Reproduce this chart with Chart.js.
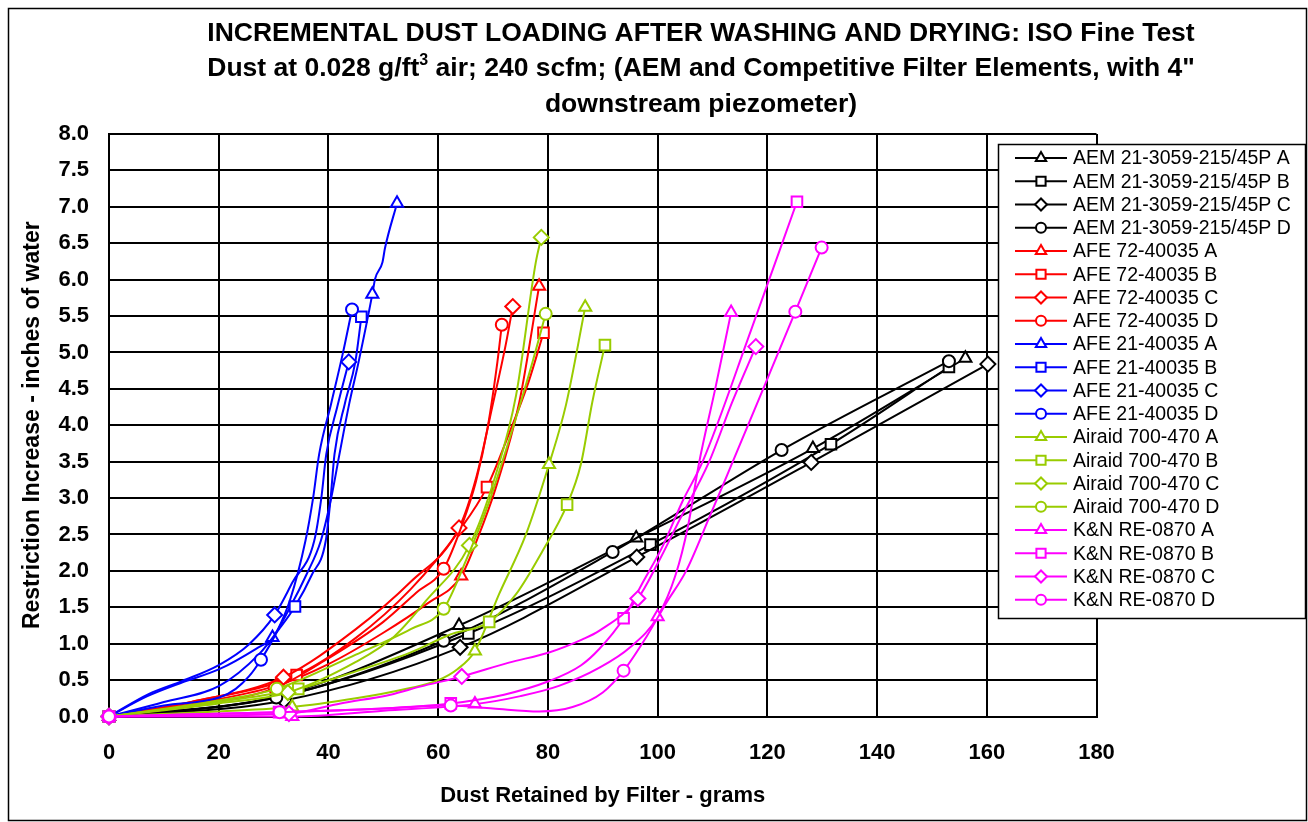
<!DOCTYPE html>
<html><head><meta charset="utf-8">
<script src="https://cdn.jsdelivr.net/npm/chart.js@4.4.1/dist/chart.umd.min.js"></script>
<style>html,body{margin:0;padding:0;background:#fff;overflow:hidden}#wrap{width:1308px;height:822px;position:relative}</style>
</head><body><div id="wrap"><canvas id="c" width="1308" height="822"></canvas></div>
<script>
// ---------------- DATA ----------------
const titleLine1 = 'INCREMENTAL DUST LOADING AFTER WASHING AND DRYING: ISO Fine Test';
const titleLine2a = 'Dust at 0.028 g/ft';
const titleLine2sup = '3';
const titleLine2b = ' air; 240 scfm; (AEM and Competitive Filter Elements, with 4"';
const titleLine3 = 'downstream piezometer)';
const xAxisTitle = 'Dust Retained by Filter - grams';
const yAxisTitle = 'Restriction Increase - inches of water';
const xTicks = [0, 20, 40, 60, 80, 100, 120, 140, 160, 180];
const yTicks = [0, 0.5, 1, 1.5, 2, 2.5, 3, 3.5, 4, 4.5, 5, 5.5, 6, 6.5, 7, 7.5, 8];

const seriesNames = [
  'AEM 21-3059-215/45P A', 'AEM 21-3059-215/45P B', 'AEM 21-3059-215/45P C', 'AEM 21-3059-215/45P D',
  'AFE 72-40035 A', 'AFE 72-40035 B', 'AFE 72-40035 C', 'AFE 72-40035 D',
  'AFE 21-40035 A', 'AFE 21-40035 B', 'AFE 21-40035 C', 'AFE 21-40035 D',
  'Airaid 700-470 A', 'Airaid 700-470 B', 'Airaid 700-470 C', 'Airaid 700-470 D',
  'K&N RE-0870 A', 'K&N RE-0870 B', 'K&N RE-0870 C', 'K&N RE-0870 D'
];

// points: [grams, inches of water, measured point shown with marker (1) or not (0)]
const aemA = [[0,0,1],[30.8,0.28,1],[63.8,1.25,1],[96.1,2.45,1],[128.3,3.68,1],[156.1,4.92,1]];
const aemB = [[0,0,1],[31,0.27,1],[65.5,1.14,1],[98.7,2.36,1],[131.6,3.74,1],[153.1,4.80,1]];
const aemC = [[0,0,1],[31.9,0.22,1],[64,0.95,1],[96.2,2.19,1],[128,3.49,1],[160.2,4.84,1]];
const aemD = [[0,0,1],[30.5,0.26,1],[61,1.04,1],[91.8,2.26,1],[122.6,3.66,1],[153.1,4.88,1]];

const afe72A = [[0,0,1],[15,0.17,0],[30.4,0.42,1],[40,0.72,0],[50,1.15,0],[58,1.55,0],[64.2,1.93,1],[67.2,2.45,0],[70.5,3.14,0],[74.8,4.32,0],[78.4,5.91,1]];
const afe72B = [[0,0,1],[15,0.2,0],[34.2,0.57,1],[45,1.08,0],[55,1.75,0],[63.8,2.55,0],[68.9,3.15,1],[73,3.9,0],[76.5,4.6,0],[79.2,5.27,1]];
const afe72C = [[0,0,1],[15,0.2,0],[31.8,0.54,1],[45,1.2,0],[55,1.85,0],[63.8,2.59,1],[67,3.3,0],[70,4.3,0],[72.3,5.1,0],[73.6,5.63,1]];
const afe72D = [[0,0,1],[15,0.15,0],[30.2,0.39,1],[40,0.8,0],[50,1.3,0],[56,1.7,0],[61,2.03,1],[64.4,2.64,0],[66.9,3.23,0],[69,3.96,0],[70.8,4.87,0],[71.6,5.38,1]];

const afe21A = [[0,0,1],[7,0.28,0],[13.4,0.47,0],[20.1,0.65,0],[26.8,0.93,0],[29.8,1.085,1],[33,1.5,0],[36,1.95,0],[38.6,2.41,0],[40.5,3.0,0],[42,3.6,0],[43.8,4.3,0],[45.5,4.87,0],[48,5.8,1],[48.5,6.01,0],[49.85,6.24,0],[50.3,6.43,0],[52.5,7.05,1]];
const afe21B = [[0,0,1],[10,0.2,0],[20.1,0.42,0],[27.4,0.86,0],[31,1.2,0],[33.9,1.51,1],[37,1.95,0],[39.5,2.41,0],[40.4,3.0,0],[41.1,3.6,0],[43,4.3,0],[44.9,4.87,0],[46,5.49,1]];
const afe21C = [[0,0,1],[7.3,0.31,0],[13.4,0.49,0],[20.1,0.71,0],[25.5,0.99,0],[30.2,1.395,1],[33.5,1.85,0],[37.4,2.41,0],[38.7,3.0,0],[39.6,3.6,0],[41.6,4.25,0],[43.7,4.87,1]];
const afe21D = [[0,0,1],[10,0.15,0],[20.1,0.26,0],[23.1,0.38,0],[25.5,0.55,0],[27.7,0.78,1],[30.5,1.15,0],[33,1.6,0],[35.8,2.41,0],[37.2,3.0,0],[38.3,3.6,0],[40.5,4.3,0],[42.6,4.98,0],[44.3,5.59,1]];

const airaidA = [[0,0,1],[20,0.07,0],[33.4,0.13,1],[45,0.25,0],[53,0.36,0],[60,0.5,0],[63.5,0.65,0],[66.7,0.9,1],[71.1,1.68,0],[76,2.5,0],[80.2,3.46,1],[83.3,4.28,0],[86.8,5.62,1]];
const airaidB = [[0,0,1],[20,0.2,0],[34.5,0.38,1],[45,0.62,0],[55,0.88,0],[62,1.12,0],[69.3,1.30,1],[74.2,1.68,0],[79,2.27,0],[83.5,2.91,1],[86,3.46,0],[88.1,4.32,0],[90.4,5.10,1]];
const airaidC = [[0,0,1],[20,0.18,0],[32.6,0.33,1],[45,0.75,0],[52,1.1,0],[57.8,1.59,0],[65.7,2.35,1],[70.5,3.32,0],[74.2,4.41,0],[77.8,6.24,0],[78.8,6.58,1]];
const airaidD = [[0,0,1],[20,0.22,0],[30.6,0.38,1],[45,0.85,0],[55,1.2,0],[61,1.48,1],[65,2.13,0],[69.3,2.95,0],[73.6,3.96,0],[77.2,4.87,0],[79.6,5.53,1]];

const knA = [[0,0,1],[20,0.0,0],[33.4,0.0,1],[50,0.08,0],[66.7,0.17,1],[75,0.28,0],[82,0.42,0],[89.4,0.67,0],[95,0.95,0],[100,1.37,1],[103.3,1.95,0],[105.5,2.6,0],[107.6,3.5,0],[110.5,4.5,0],[113.4,5.55,1]];
const knB = [[0,0,1],[31,0.06,1],[47,0.1,0],[62.3,0.18,1],[72,0.3,0],[80,0.48,0],[86,0.7,0],[89.4,0.93,0],[93.8,1.35,1],[97,1.8,0],[101,2.35,0],[104.5,2.95,0],[108.2,3.5,0],[117,5.3,0],[125.4,7.07,1]];
const knC = [[0,0,1],[32.8,0.04,1],[42.2,0.18,0],[51.3,0.3,0],[56.7,0.41,0],[64.3,0.55,1],[72.9,0.74,0],[80.2,0.88,0],[86.3,1.06,0],[89.4,1.18,0],[96.4,1.62,1],[100,2.1,0],[104,2.7,0],[109.4,3.5,0],[113.5,4.3,0],[117.9,5.08,1]];
const knD = [[0,0,1],[31.1,0.06,1],[47,0.1,0],[62.3,0.15,1],[70,0.11,0],[78.4,0.07,0],[84.5,0.13,0],[90,0.33,0],[93.8,0.63,1],[98,1.1,0],[101.5,1.55,0],[105.2,2.0,0],[109.4,2.73,0],[113.7,3.5,0],[119.8,4.6,0],[125.1,5.56,1],[129.9,6.44,1]];

const seriesData = [aemA, aemB, aemC, aemD, afe72A, afe72B, afe72C, afe72D,
  afe21A, afe21B, afe21C, afe21D, airaidA, airaidB, airaidC, airaidD, knA, knB, knC, knD];

// ---------------- STYLE ----------------
const groupColors = ['#000000', '#FF0000', '#0000FF', '#99CC00', '#FF00FF'];
const markerStyles = ['triangle', 'rect', 'rectRot', 'circle'];
const markerRadius = {triangle: 7, rect: 7.5, rectRot: 7.5, circle: 6};
const legendMarkerRadius = {triangle: 6, rect: 6.5, rectRot: 6, circle: 5};
const FONT = '"Liberation Sans", Arial, Helvetica, sans-serif';

const datasets = seriesData.map((pts, i) => {
  const color = groupColors[Math.floor(i / 4)];
  const ms = markerStyles[i % 4];
  const radii = pts.map(p => p[2] ? markerRadius[ms] : 0);
  return {
    label: seriesNames[i],
    data: pts.map(p => ({x: p[0], y: p[1]})),
    borderColor: color,
    backgroundColor: '#ffffff',
    borderWidth: 2,
    pointStyle: ms,
    pointRadius: radii,
    pointHoverRadius: radii,
    pointBorderWidth: 2,
    pointBackgroundColor: '#ffffff',
    pointBorderColor: color,
    cubicInterpolationMode: 'monotone',
    fill: false,
    clip: false,
    order: -i
  };
});

const decorPlugin = {
  id: 'decor',
  beforeDraw(chart) {
    const ctx = chart.ctx;
    ctx.save();
    ctx.fillStyle = '#ffffff';
    ctx.fillRect(0, 0, chart.width, chart.height);
    ctx.restore();
  },
  afterDraw(chart) {
    const ctx = chart.ctx;
    const ca = chart.chartArea;
    ctx.save();
    // outer frame
    ctx.strokeStyle = '#000';
    ctx.lineWidth = 1.5;
    ctx.strokeRect(8.5, 8.5, 1298, 812);

    // title
    ctx.fillStyle = '#000';
    ctx.textBaseline = 'alphabetic';
    ctx.textAlign = 'center';
    ctx.font = 'bold 26.5px ' + FONT;
    const cx = 701;
    ctx.fillText(titleLine1, cx, 41);
    ctx.fillText(titleLine3, cx, 112);
    ctx.textAlign = 'left';
    const wa = ctx.measureText(titleLine2a).width;
    const wb = ctx.measureText(titleLine2b).width;
    ctx.font = 'bold 16px ' + FONT;
    const ws = ctx.measureText(titleLine2sup).width;
    let x0 = cx - (wa + ws + wb) / 2;
    ctx.font = 'bold 26.5px ' + FONT;
    ctx.fillText(titleLine2a, x0, 76);
    ctx.font = 'bold 16px ' + FONT;
    ctx.fillText(titleLine2sup, x0 + wa, 65);
    ctx.font = 'bold 26.5px ' + FONT;
    ctx.fillText(titleLine2b, x0 + wa + ws, 76);

    // axis titles
    ctx.textAlign = 'center';
    ctx.font = 'bold 22px ' + FONT;
    ctx.fillText(xAxisTitle, (ca.left + ca.right) / 2, 801.5);
    ctx.save();
    ctx.translate(38.5, (ca.top + ca.bottom) / 2);
    ctx.rotate(-Math.PI / 2);
    ctx.font = 'bold 23px ' + FONT;
    ctx.fillText(yAxisTitle, 0, 0);
    ctx.restore();

    // legend
    const lx = 998.5, ly = 144.5, lw = 307, lh = 474;
    ctx.fillStyle = '#fff';
    ctx.fillRect(lx, ly, lw, lh);
    ctx.strokeStyle = '#000';
    ctx.lineWidth = 1.5;
    ctx.strokeRect(lx, ly, lw, lh);
    ctx.textAlign = 'left';
    ctx.textBaseline = 'middle';
    ctx.font = '19.5px ' + FONT;
    seriesNames.forEach((name, i) => {
      const y = 158 + i * 23.25;
      const color = groupColors[Math.floor(i / 4)];
      const ms = markerStyles[i % 4];
      ctx.strokeStyle = color;
      ctx.lineWidth = 2;
      ctx.beginPath();
      ctx.moveTo(1015, y);
      ctx.lineTo(1067, y);
      ctx.stroke();
      ctx.fillStyle = '#fff';
      ctx.strokeStyle = color;
      ctx.lineWidth = 2;
      Chart.helpers.drawPoint(ctx, {pointStyle: ms, radius: legendMarkerRadius[ms], borderWidth: 2, rotation: 0}, 1041, y);
      ctx.fillStyle = '#000';
      ctx.fillText(name, 1073, y + 1);
    });
    ctx.restore();
  }
};

new Chart(document.getElementById('c'), {
  type: 'line',
  data: {datasets},
  options: {
    responsive: false,
    animation: false,
    devicePixelRatio: 1,
    parsing: true,
    layout: {padding: {top: 134, right: 211.5, bottom: 0, left: 0}},
    plugins: {legend: {display: false}, title: {display: false}, tooltip: {enabled: false}},
    events: [],
    scales: {
      x: {
        type: 'linear', min: 0, max: 180,
        afterBuildTicks: s => { s.ticks = xTicks.map(v => ({value: v})); },
        afterFit: s => { s.height = 105.5; },
        grid: {color: '#000', lineWidth: 2, drawTicks: false},
        border: {color: '#000', width: 2},
        ticks: {color: '#000', font: {family: FONT, size: 22, weight: 'bold'}, padding: 23, maxRotation: 0, autoSkip: false}
      },
      y: {
        type: 'linear', min: 0, max: 8,
        afterBuildTicks: s => { s.ticks = yTicks.map(v => ({value: v})); },
        afterFit: s => { s.width = 109; },
        grid: {color: '#000', lineWidth: 2, drawTicks: false},
        border: {color: '#000', width: 2},
        ticks: {color: '#000', font: {family: FONT, size: 22, weight: 'bold'}, padding: 20, autoSkip: false,
          callback: v => Number(v).toFixed(1)}
      }
    }
  },
  plugins: [decorPlugin]
});
</script></body></html>
